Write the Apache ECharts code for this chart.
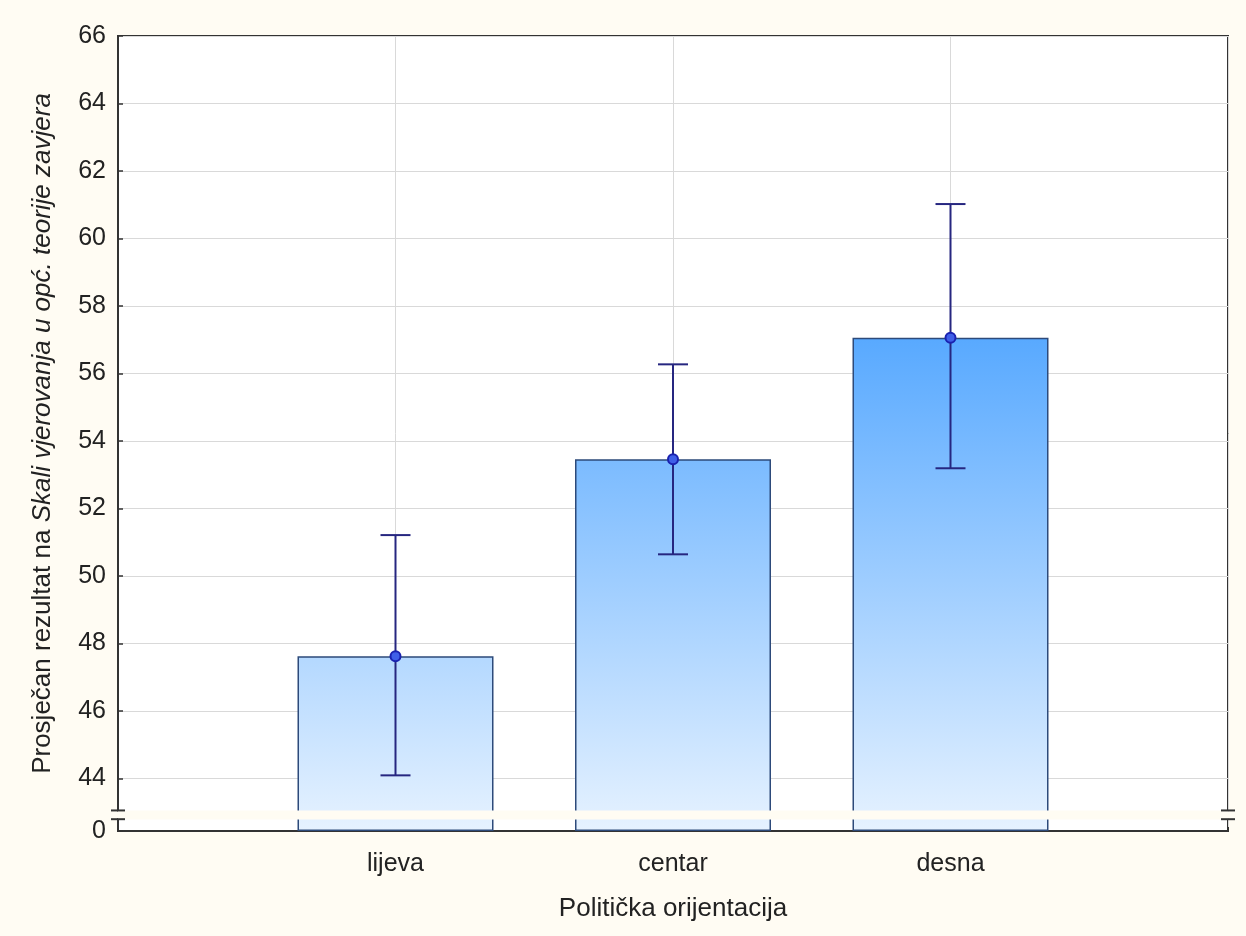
<!DOCTYPE html>
<html><head><meta charset="utf-8">
<script src="https://cdn.jsdelivr.net/npm/echarts@6/dist/echarts.min.js"></script>
<style>html,body{margin:0;padding:0;background:#fffcf3}#c{width:1246px;height:936px}</style>
</head><body><div id="c"></div>
<script>
const categories = ['lijeva', 'centar', 'desna'];
const means = [47.62, 53.46, 57.06];
const lower = [44.09, 50.64, 53.19];
const upper = [51.21, 56.27, 61.02];
const yTickLabels = [0, 44, 46, 48, 50, 52, 54, 56, 58, 60, 62, 64, 66];
const breakStart = 0.35;
const breakEnd = 43.05;

const BG = '#fffcf3';
const FONT = 'Liberation Sans, Arial, sans-serif';
const axisData = [''].concat(categories, ['']);
const barData = [null].concat(means, [null]);

const chart = echarts.init(document.getElementById('c'), null, {renderer: 'canvas'});
const option = {
  backgroundColor: BG,
  animation: false,
  grid: {left: 118, right: 18, top: 36, bottom: 105, show: true, backgroundColor: '#ffffff', borderColor: '#333', borderWidth: 2},
  xAxis: {
    type: 'category', data: axisData, boundaryGap: false,
    name: 'Politička orijentacija', nameLocation: 'middle', nameGap: 65,
    nameTextStyle: {fontFamily: FONT, fontSize: 26, color: '#222'},
    axisLine: {lineStyle: {color: '#333', width: 2}},
    axisTick: {inside: true, length: 4, lineStyle: {color: '#333', width: 2}},
    axisLabel: {fontFamily: FONT, fontSize: 25, color: '#222', margin: 21},
    splitLine: {show: true, lineStyle: {color: '#d9d9d9', width: 1}}
  },
  yAxis: {
    type: 'value', min: 0, max: 66, interval: 2,
    breaks: [{start: breakStart, end: breakEnd, gap: '1.1%'}],
    breakArea: {show: true, itemStyle: {color: BG, borderColor: BG, borderWidth: 0, opacity: 1}, zigzagAmplitude: 0, zigzagZ: 100, expandOnClick: false},
    name: 'Prosječan rezultat na {i|Skali vjerovanja u opć. teorije zavjera}',
    nameLocation: 'middle', nameGap: 62, nameRotate: 90,
    nameTextStyle: {fontFamily: FONT, fontSize: 26, color: '#222', rich: {i: {fontFamily: FONT, fontSize: 26, color: '#222', fontStyle: 'italic'}}},
    axisLine: {show: true, lineStyle: {color: '#333', width: 2}},
    axisTick: {show: true, inside: true, length: 5, lineStyle: {color: '#333', width: 1.5}, customValues: yTickLabels},
    axisLabel: {fontFamily: FONT, fontSize: 25, color: '#222', margin: 12, customValues: yTickLabels},
    splitLine: {show: true, lineStyle: {color: '#d9d9d9', width: 1}}
  },
  series: [
    {
      type: 'bar', data: barData, barWidth: 196, z: 2,
      itemStyle: {
        color: new echarts.graphic.LinearGradient(0, 337, 0, 831, [
          {offset: 0, color: '#58a9ff'}, {offset: 1, color: '#e6f2ff'}
        ], true),
        borderColor: '#2d4a7a', borderWidth: 1.5
      }
    },
    {
      type: 'custom', z: 5,
      data: categories.map((c, i) => [i + 1, lower[i], upper[i]]),
      renderItem: function (params, api) {
        const x = api.value(0);
        const lo = api.coord([x, api.value(1)]);
        const hi = api.coord([x, api.value(2)]);
        const hw = 15;
        const st = {stroke: '#262680', lineWidth: 2};
        return {type: 'group', children: [
          {type: 'line', shape: {x1: lo[0], y1: lo[1], x2: hi[0], y2: hi[1]}, style: st},
          {type: 'line', shape: {x1: lo[0] - hw, y1: lo[1], x2: lo[0] + hw, y2: lo[1]}, style: st},
          {type: 'line', shape: {x1: hi[0] - hw, y1: hi[1], x2: hi[0] + hw, y2: hi[1]}, style: st}
        ]};
      }
    },
    {
      type: 'scatter', z: 6, symbol: 'circle', symbolSize: 10,
      data: means.map((m, i) => [i + 1, m]),
      itemStyle: {color: '#3f5fe8', borderColor: '#1a22b0', borderWidth: 2, opacity: 1}
    }
  ]
};
chart.setOption(option);

const yTop = chart.convertToPixel({yAxisIndex: 0}, breakEnd);
const yBot = chart.convertToPixel({yAxisIndex: 0}, breakStart);
const gfx = [];
[118, 1228].forEach(function (ax) {
  gfx.push({type: 'rect', z: 200, shape: {x: ax - 3, y: yTop + 1, width: 6, height: yBot - yTop - 2}, style: {fill: BG}});
  gfx.push({type: 'line', z: 201, shape: {x1: ax - 7, y1: yTop, x2: ax + 7, y2: yTop}, style: {stroke: '#333', lineWidth: 2}});
  gfx.push({type: 'line', z: 201, shape: {x1: ax - 7, y1: yBot, x2: ax + 7, y2: yBot}, style: {stroke: '#333', lineWidth: 2}});
});
chart.setOption({graphic: gfx});
</script>
</body></html>
